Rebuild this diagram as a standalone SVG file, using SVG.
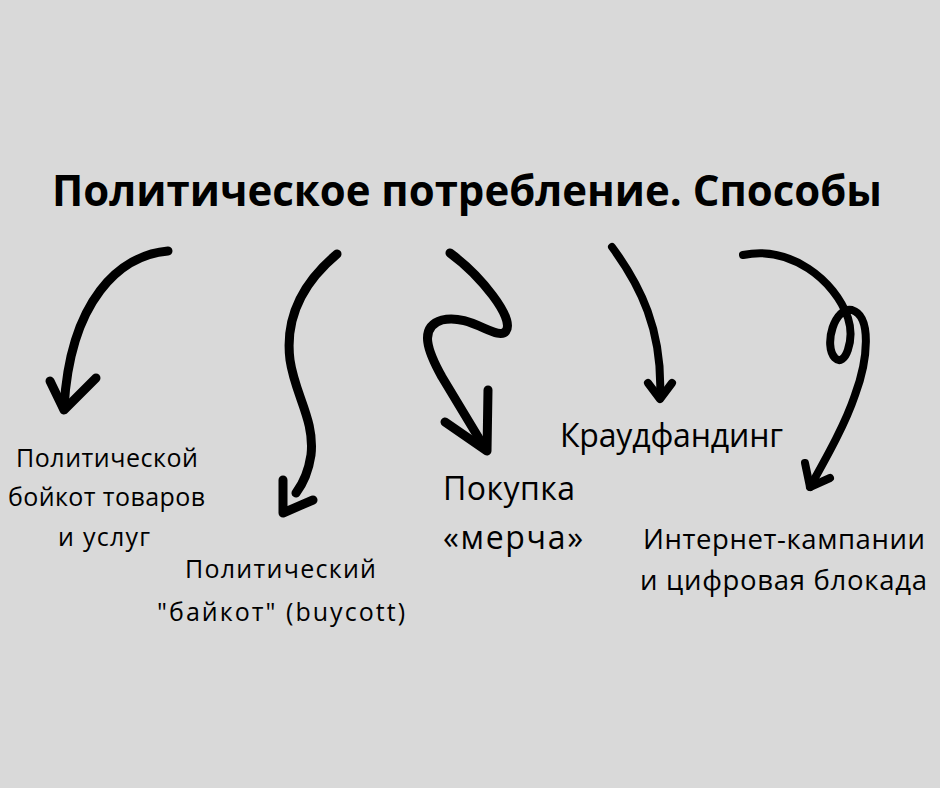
<svg xmlns="http://www.w3.org/2000/svg" width="940" height="788" viewBox="0 0 940 788">
<style>
.t{font-family:"Open Sans","Liberation Sans",sans-serif;fill:#000}
.title{font-size:43px;font-weight:700}
.s{font-size:25px}
.m{font-size:32px}
.r{font-size:27.5px}
.arr{fill:none;stroke:#000;stroke-width:9;stroke-linecap:round;stroke-linejoin:round}
</style>
<rect width="940" height="788" fill="#d9d9d9"/>
<g id="title"><text class="t title" x="52" y="206" textLength="830" lengthAdjust="spacingAndGlyphs">Политическое потребление. Способы</text></g>
<g id="connectors">
<path class="arr" d="M168,251 C120,255 70,300 64,408"/>
<path class="arr" d="M50,381 L64,410 L96,378"/>
<path class="arr" d="M337,254 C300,285 285,320 290,360 C295,395 315,420 311,455 C308,475 302,485 296,493"/>
<path class="arr" d="M283,480 L283,513 L313,500"/>
<path class="arr" d="M450,253 C480,275 515,318 506,331 C498,342 470,313 442,320 C418,327 428,352 442,377 L486,450"/>
<path class="arr" d="M445,422 L487,451 L488,390"/>
<path class="arr" style="stroke-width:8" d="M612,247 C640,285 663,330 660,397"/>
<path class="arr" style="stroke-width:8" d="M648,383 L660,399 L672,383"/>
<path class="arr" style="stroke-width:8" d="M743,255 C790,245 835,280 848,318 C855,340 845,368 835,358 C823,345 835,306 852,310 C872,316 868,360 855,395 C845,425 825,460 810,487"/>
<path class="arr" style="stroke-width:8" d="M805,463 L810,487 L830,478"/>
</g>
<g id="n1"><text class="t s" text-anchor="middle" x="107" y="467" textLength="182">Политической</text><text class="t s" text-anchor="middle" x="106.5" y="506" textLength="197">бойкот товаров</text><text class="t s" text-anchor="middle" x="104" y="546" textLength="92">и услуг</text></g>
<g id="n2"><text class="t s" text-anchor="middle" x="280.5" y="578" textLength="191">Политический</text><text class="t s" text-anchor="middle" x="281" y="621" textLength="248">"байкот" (buycott)</text></g>
<g id="n3"><text class="t m" x="443" y="500" textLength="132">Покупка</text><text class="t m" x="443" y="549" textLength="140">«мерча»</text></g>
<g id="n4"><text class="t m" x="560" y="447" textLength="223">Краудфандинг</text></g>
<g id="n5"><text class="t r" text-anchor="middle" x="784" y="549" textLength="282">Интернет-кампании</text><text class="t r" text-anchor="middle" x="783.5" y="590" textLength="287">и цифровая блокада</text></g>
</svg>
